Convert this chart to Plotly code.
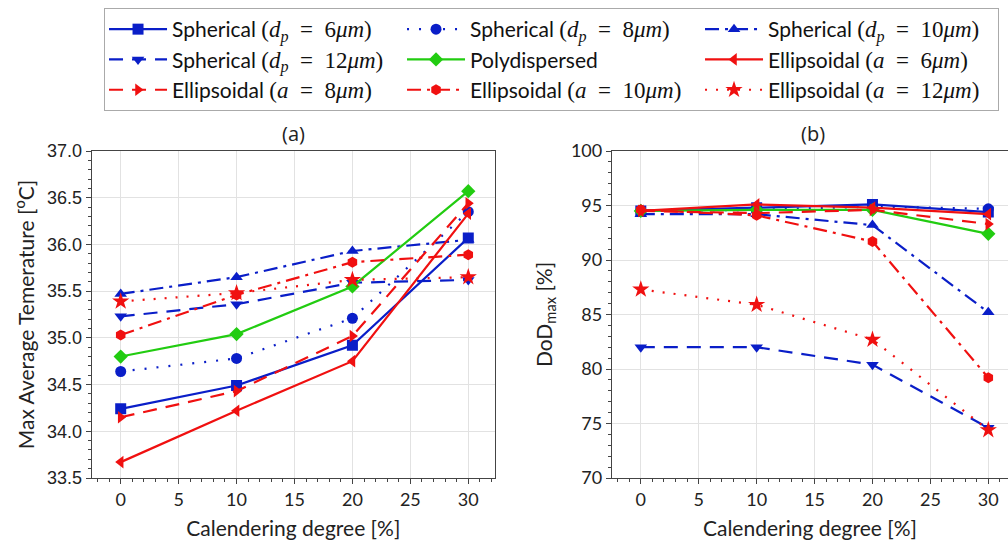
import plotly.graph_objects as go

x_cal = [0, 10, 20, 30]

MATH = '<span style="font-family:serif;font-size:23px">'
EQ = "\u2002=\u2002"
names = [
    "Spherical " + MATH + "(<i>d<sub>p</sub></i>" + EQ + "6<i>μm</i>)</span>",
    "Spherical " + MATH + "(<i>d<sub>p</sub></i>" + EQ + "8<i>μm</i>)</span>",
    "Spherical " + MATH + "(<i>d<sub>p</sub></i>" + EQ + "10<i>μm</i>)</span>",
    "Spherical " + MATH + "(<i>d<sub>p</sub></i>" + EQ + "12<i>μm</i>)</span>",
    "Polydispersed",
    "Ellipsoidal " + MATH + "(<i>a</i>" + EQ + "6<i>μm</i>)</span>",
    "Ellipsoidal " + MATH + "(<i>a</i>" + EQ + "8<i>μm</i>)</span>",
    "Ellipsoidal " + MATH + "(<i>a</i>" + EQ + "10<i>μm</i>)</span>",
    "Ellipsoidal " + MATH + "(<i>a</i>" + EQ + "12<i>μm</i>)</span>",
]

temp_sph6 = [34.24, 34.49, 34.92, 36.07]
temp_sph8 = [34.64, 34.78, 35.21, 36.35]
temp_sph10 = [35.47, 35.65, 35.93, 36.05]
temp_sph12 = [35.23, 35.36, 35.59, 35.62]
temp_poly = [34.80, 35.04, 35.55, 36.57]
temp_ell6 = [33.67, 34.22, 34.75, 36.33]
temp_ell8 = [34.15, 34.43, 35.02, 36.44]
temp_ell10 = [35.03, 35.46, 35.81, 35.89]
temp_ell12 = [35.39, 35.48, 35.62, 35.65]

dod_sph6 = [94.5, 94.8, 95.1, 94.4]
dod_sph8 = [94.5, 94.6, 94.9, 94.7]
dod_sph10 = [94.2, 94.2, 93.2, 85.2]
dod_sph12 = [82.0, 82.0, 80.4, 74.6]
dod_poly = [94.5, 94.6, 94.6, 92.4]
dod_ell6 = [94.5, 95.1, 94.8, 94.2]
dod_ell8 = [94.5, 94.3, 94.6, 93.3]
dod_ell10 = [94.6, 94.1, 91.7, 79.2]
dod_ell12 = [87.3, 85.9, 82.7, 74.4]

temps = [temp_sph6, temp_sph8, temp_sph10, temp_sph12, temp_poly,
         temp_ell6, temp_ell8, temp_ell10, temp_ell12]
dods = [dod_sph6, dod_sph8, dod_sph10, dod_sph12, dod_poly,
        dod_ell6, dod_ell8, dod_ell10, dod_ell12]

BLUE = "#0a1ec8"
RED = "#f01010"
GREEN = "#22cc11"
styles = [
    (BLUE, "solid", "square"),
    (BLUE, "2px,10px", "circle"),
    (BLUE, "14px,6px,3px,6px", "triangle-up"),
    (BLUE, "14px,9px", "triangle-down"),
    (GREEN, "solid", "diamond"),
    (RED, "solid", "triangle-left"),
    (RED, "14px,9px", "triangle-right"),
    (RED, "14px,6px,3px,6px", "hexagon"),
    (RED, "2px,9px", "star"),
]

fig = go.Figure()
for i, (nm, t, d) in enumerate(zip(names, temps, dods)):
    col, dash, sym = styles[i]
    common = dict(mode="lines+markers", line=dict(color=col, dash=dash, width=2.2),
                  marker=dict(symbol=sym, size=11 if sym != "star" else 13, color=col))
    fig.add_trace(go.Scatter(x=x_cal, y=t, name=nm, legendgroup=str(i),
                             xaxis="x", yaxis="y", **common))
    fig.add_trace(go.Scatter(x=x_cal, y=d, name=nm, legendgroup=str(i),
                             showlegend=False, xaxis="x2", yaxis="y2", **common))

FONT = "Lato, 'DejaVu Sans', sans-serif"


def axis_common(tickfam):
    return dict(showline=True, linecolor="#444", linewidth=1, mirror=True,
                showgrid=True, gridcolor="#e2e2e2", gridwidth=1,
                ticks="outside", ticklen=5, tickcolor="#444",
                minor=dict(ticks="outside", ticklen=3, tickcolor="#444", showgrid=False),
                tickfont=dict(size=18, color="#222", family=tickfam), zeroline=False)


fig.update_layout(
    width=1008, height=543,
    margin=dict(l=0, r=0, t=151, b=65, autoexpand=False),
    plot_bgcolor="white", paper_bgcolor="white",
    font=dict(family=FONT, color="#222"),
    xaxis=dict(domain=[0.091, 0.491], range=[-2.5, 32.3], dtick=5, tick0=0,
               title=dict(text="Calendering degree [%]", font=dict(size=21), standoff=12),
               anchor="y", **axis_common(FONT)),
    yaxis=dict(domain=[0, 1], range=[33.5, 37.0], dtick=0.5, tickformat=".1f",
               title=dict(text="Max Average Temerature [<sup>o</sup>C]", font=dict(size=21), standoff=6),
               anchor="x", **axis_common("'Liberation Sans', Arial, sans-serif")),
    xaxis2=dict(domain=[0.607, 1.0], range=[-2.5, 31.7], dtick=5, tick0=0,
                title=dict(text="Calendering degree [%]", font=dict(size=21), standoff=12),
                anchor="y2", **axis_common(FONT)),
    yaxis2=dict(domain=[0, 1], range=[70, 100], dtick=5,
                title=dict(text="DoD<sub>max</sub> [%]", font=dict(size=21), standoff=12),
                anchor="x2", **axis_common(FONT)),
    legend=dict(orientation="h", x=0.1032, y=1.4373, xanchor="left", yanchor="top",
                bordercolor="#aaaaaa", borderwidth=1, bgcolor="white",
                font=dict(size=21, family=FONT, color="#111"),
                entrywidth=225, entrywidthmode="pixels", tracegroupgap=0,
                itemwidth=58),
    annotations=[
        dict(text="(a)", x=0.291, y=1.0, xref="paper", yref="paper", xanchor="center",
             yanchor="bottom", yshift=2, showarrow=False, font=dict(size=20, family="'Open Sans', sans-serif")),
        dict(text="(b)", x=0.807, y=1.0, xref="paper", yref="paper", xanchor="center",
             yanchor="bottom", yshift=2, showarrow=False, font=dict(size=20, family="'Open Sans', sans-serif")),
    ],
)

fig.write_html("out.html")
